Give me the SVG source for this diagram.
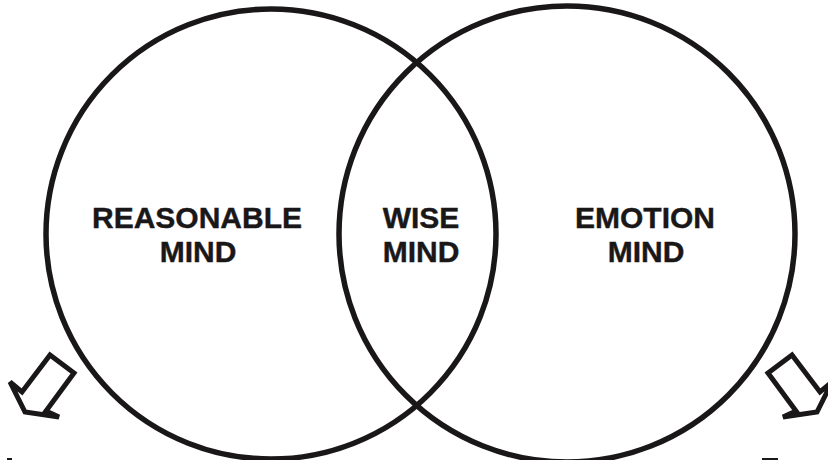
<svg xmlns="http://www.w3.org/2000/svg" width="828" height="460" viewBox="0 0 828 460">
<style>
.c{fill:none;stroke:#1a1718;stroke-width:5.5}
.a{fill:#fff;stroke:#1a1718;stroke-width:5;stroke-linejoin:miter}
.t{font-family:"Liberation Sans",Arial,sans-serif;font-weight:bold;font-size:30px;fill:#1a1718;stroke:#1a1718;stroke-width:0.4;text-anchor:middle}
</style>
<rect width="828" height="460" fill="#fff"/>
<g id="reasonable">
<circle class="c" cx="271" cy="234" r="225"/>
<text class="t" x="197" y="228">REASONABLE</text>
<text class="t" x="198" y="262">MIND</text>
</g>
<g id="emotion">
<circle class="c" cx="567" cy="234" r="228"/>
<text class="t" x="645" y="228">EMOTION</text>
<text class="t" x="646" y="262">MIND</text>
</g>
<g id="wise">
<text class="t" x="421" y="228">WISE</text>
<text class="t" x="421" y="262">MIND</text>
</g>
<g id="connectors">
<polygon class="a" points="50,355 74,373 46,411 59,417 25,412 10,382 22,392"/>
<polygon class="a" points="792,355 768,373 796,411 783,417 817,412 832,382 820,392"/>
</g>
<rect x="7" y="458" width="5" height="2" fill="#1a1718"/>
<rect x="762" y="458" width="16" height="2" fill="#1a1718"/>
</svg>
